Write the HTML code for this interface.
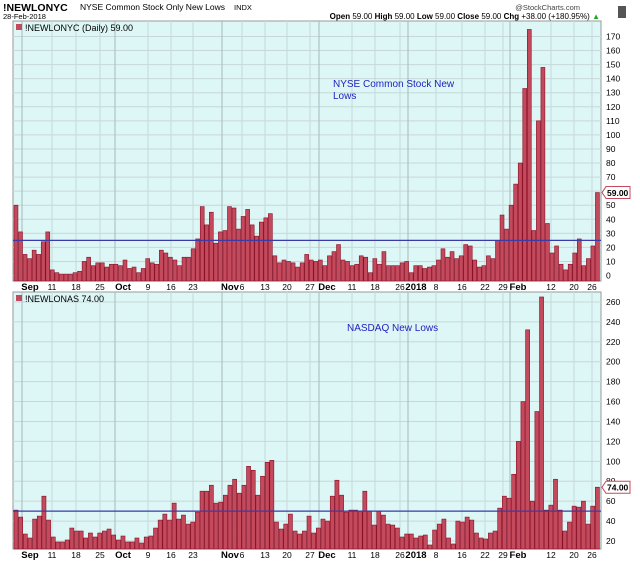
<!DOCTYPE html>
<html><head><meta charset="utf-8"><style>
body{margin:0;background:#fff;width:640px;height:564px;overflow:hidden;font-family:"Liberation Sans",sans-serif}
svg text{font-family:"Liberation Sans",sans-serif}
</style></head><body>
<svg id="s" width="640" height="564" xmlns="http://www.w3.org/2000/svg">
<rect width="640" height="564" fill="#fff"/>
<text x="3" y="11" font-size="10.5" font-weight="bold">!NEWLONYC</text>
<text x="80" y="10" font-size="8.5">NYSE Common Stock Only New Lows</text>
<text x="234" y="10" font-size="7.5">INDX</text>
<text x="3" y="19" font-size="7.5">28-Feb-2018</text>
<text x="580" y="10" font-size="7.5" text-anchor="end" fill="#444">@StockCharts.com</text>
<text x="600" y="19" font-size="8" text-anchor="end"><tspan font-weight="bold">Open</tspan> 59.00 <tspan font-weight="bold">High</tspan> 59.00 <tspan font-weight="bold">Low</tspan> 59.00 <tspan font-weight="bold">Close</tspan> 59.00 <tspan font-weight="bold">Chg</tspan> +38.00 (+180.95%) <tspan fill="#2a2">▲</tspan></text>
<rect x="618" y="6" width="8" height="12" fill="#555"/>
<g id="g"></g>
</svg>
<script>
var gg=document.getElementById('g'),NS='http://www.w3.org/2000/svg';
function el(n,a,t){var e=document.createElementNS(NS,n);for(var k in a)e.setAttribute(k,a[k]);if(t!=null)e.textContent=t;gg.appendChild(e);return e;}
var X0=13,X1=601;
var labels=[["Sep",30,1],["11",52],["18",76],["25",100],["Oct",123,1],["9",148],["16",171],["23",193],["Nov",230,1],["6",242],["13",265],["20",287],["27",310],["Dec",327,1],["11",352],["18",375],["26",400],["2018",416,1],["8",436],["16",462],["22",485],["29",503],["Feb",518,1],["12",551],["20",574],["26",592]];
function panel(pt,pb,ymap,ticks,data,hl,name,title,tx,ty,last){
 el('rect',{x:X0,y:pt,width:X1-X0,height:pb-pt,fill:'#ddf6f6',stroke:'#999','stroke-width':1});
 ticks.forEach(function(v){var y=ymap(v);el('line',{x1:X0,x2:X1,y1:y,y2:y,stroke:'#c8d8d8','stroke-width':1});el('text',{x:606,y:y+3,'font-size':8.5},v);});
 labels.forEach(function(l){var x=l[1]-(l[2]?8:0);el('line',{x1:x,x2:x,y1:pt,y2:pb,stroke:l[2]?'#a8b8b8':'#c8d8d8','stroke-width':1});});
 var n=data.length,w=(X1-X0-2)/n;
 data.forEach(function(v,i){var y=ymap(v);if(y<pt)y=pt;el('rect',{x:X0+1+i*w,y:y,width:w-0.6,height:pb-y,fill:'#c34a5c',stroke:'#8a0f25','stroke-width':0.6});});
 var hy=ymap(hl);el('line',{x1:X0,x2:X1,y1:hy,y2:hy,stroke:'#3a3aa8','stroke-width':1.2});
 el('rect',{x:16,y:pt+3,width:6,height:6,fill:'#c34a5c'});
 el('text',{x:25,y:pt+10,'font-size':9,'font-family':'Liberation Mono, monospace'},name);
 el('text',{x:tx,y:ty,'font-size':10,fill:'#1f1fbf'},title[0]);
 if(title[1])el('text',{x:tx,y:ty+12,'font-size':10,fill:'#1f1fbf'},title[1]);
 var ly=ymap(last);
 el('path',{d:'M602,'+ly+' l4,-6 h24 v12 h-24 z',fill:'#fff',stroke:'#c34a5c'});
 el('text',{x:607,y:ly+3.5,'font-size':8.5,'font-weight':'bold'},last.toFixed(2));
 labels.forEach(function(l){el('text',{x:l[1],y:pb+9,'font-size':l[2]?9.5:8.5,'font-weight':l[2]?'bold':'normal','text-anchor':'middle'},l[0]);});
}
var d1=[50,31,15,12,18,15,24,31,4,2,1,1,1,2,3,10,13,7,9,9,6,8,8,7,11,5,6,2,5,12,9,8,18,16,13,11,7,13,13,19,26,49,36,45,23,31,32,49,48,33,42,47,36,28,38,41,44,14,9,11,10,9,6,9,15,11,10,11,7,14,17,22,11,10,7,8,14,13,2,12,8,17,7,7,7,9,10,2,7,7,5,6,7,11,19,13,17,12,14,22,21,11,6,7,14,12,25,43,33,50,65,80,133,175,32,110,148,37,16,21,8,4,8,16,26,7,12,21,59];
var d2=[51,44,27,23,42,45,65,41,24,19,19,21,33,30,30,23,28,24,28,30,32,26,21,25,19,19,23,18,24,25,33,41,47,41,58,42,46,37,39,49,70,70,76,58,59,66,76,82,68,76,95,91,66,85,99,101,39,32,37,47,30,27,30,45,28,33,42,40,65,81,66,49,51,51,50,70,50,36,50,46,37,36,33,24,27,27,23,25,26,16,31,37,42,23,17,40,39,44,41,28,23,22,28,30,53,65,63,87,120,160,232,60,150,265,51,56,82,51,30,39,55,54,60,37,55,74];
var t1=[];for(var v=0;v<=170;v+=10)t1.push(v);
panel(21,281,function(v){return 275.5-v*1.406;},t1,d1,25,'!NEWLONYC (Daily) 59.00',['NYSE Common Stock New','Lows'],333,87,59);
var t2=[];for(var v=20;v<=260;v+=20)t2.push(v);
panel(292,549,function(v){return 541-(v-20)*0.996;},t2,d2,50,'!NEWLONAS 74.00',['NASDAQ New Lows'],347,331,74);
</script>
</body></html>
